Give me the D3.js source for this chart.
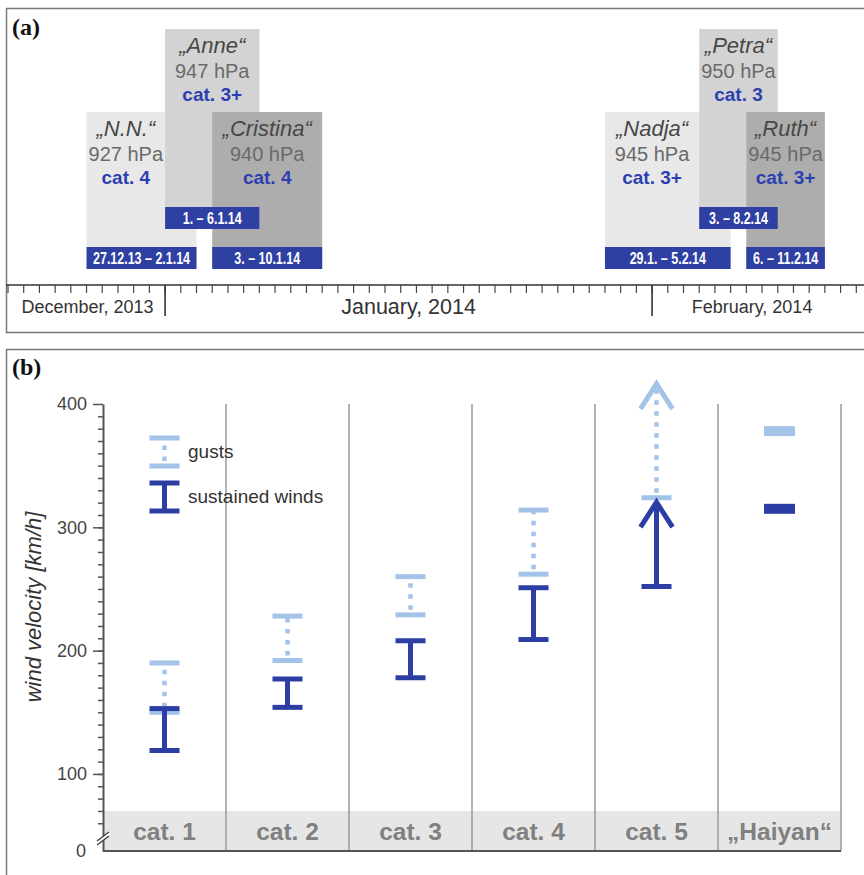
<!DOCTYPE html>
<html>
<head>
<meta charset="utf-8">
<script src="https://cdn.jsdelivr.net/npm/d3@7"></script>
<style>
  body { margin: 0; background: #fff; }
  text { font-family: "Liberation Sans", Arial, Helvetica, sans-serif; }
</style>
</head>
<body>
<script>
// ---------- data: panel (a), storm timeline ----------
const stormNames    = ["N.N.", "Anne", "Cristina", "Nadja", "Petra", "Ruth"];
const stormPressure = [927, 947, 940, 945, 950, 945];
const stormCategory = ["cat. 4", "cat. 3+", "cat. 4", "cat. 3+", "cat. 3", "cat. 3+"];
const stormDates    = ["27.12.13 – 2.1.14", "1. – 6.1.14", "3. – 10.1.14",
                       "29.1. – 5.2.14", "3. – 8.2.14", "6. – 11.2.14"];
// extent of each box as drawn in the figure (end is exclusive)
const stormStart    = ["2013-12-27", "2014-01-01", "2014-01-04", "2014-01-29", "2014-02-04", "2014-02-07"];
const stormEnd      = ["2014-01-03", "2014-01-07", "2014-01-11", "2014-02-06", "2014-02-09", "2014-02-12"];
const stormRow      = [1, 0, 1, 1, 0, 1];   // 0 = raised box
const monthStarts   = ["2013-12-01", "2014-01-01", "2014-02-01", "2014-03-01"];
const monthLabels   = ["December, 2013", "January, 2014", "February, 2014"];

// ---------- data: panel (b), wind velocity per category ----------
const categories   = ["cat. 1", "cat. 2", "cat. 3", "cat. 4", "cat. 5", "\u201EHaiyan\u201C"];
const sustainedMin = [119, 154, 178, 209, 252, 315];
const sustainedMax = [153, 177, 208, 251, 322, 315];
const gustMin      = [150, 192, 229, 262, 324, 378];
const gustMax      = [190, 228, 260, 314, 418, 378];
const openTop      = [false, false, false, false, true, false];
const yMajorTicks  = [100, 200, 300, 400];

const darkBlue = "#2c3da3", lightBlue = "#a3c3e8", blueBox = "#2f40a3";
const shades = ["#e8e8e8", "#d3d3d3", "#adadad"];

const svg = d3.select("body").append("svg")
  .attr("width", 864).attr("height", 875);

const parse = d3.utcParse("%Y-%m-%d");

// ================= panel (a) =================
svg.append("rect")
  .attr("x", 6.5).attr("y", 8.5).attr("width", 900).attr("height", 324)
  .attr("fill", "none").attr("stroke", "#7a7a7a").attr("stroke-width", 1.5);

svg.append("text").attr("x", 12).attr("y", 35)
  .style("font-family", "'Liberation Serif', 'Times New Roman', serif")
  .style("font-weight", "bold").style("font-size", "24px").attr("fill", "#111")
  .text("(a)");

var x = d3.scaleUtc()
  .domain([parse("2013-12-22"), parse("2014-02-15")])
  .range([8, 872]);

const rowTop = [29, 112], rowBottom = [229, 269], labelH = 22;

const storms = stormNames.map(function (n, i) {
  return { name: n, hpa: stormPressure[i], cat: stormCategory[i], dates: stormDates[i],
           start: parse(stormStart[i]), end: parse(stormEnd[i]), row: stormRow[i], i: i };
});

// centre of the part of a low box that is not hidden by later boxes
function textCenter(d) {
  var x0 = x(d.start), x1 = x(d.end);
  if (d.row === 1) {
    storms.forEach(function (e) {
      if (e.i > d.i && x(e.start) > x0 && x(e.start) < x1) x1 = x(e.start);
    });
  }
  return (x0 + x1) / 2;
}

var boxes = svg.append("g");
boxes.selectAll("rect")
  .data(storms)
  .join("rect")
  .attr("x", function (d) { return x(d.start); })
  .attr("width", function (d) { return x(d.end) - x(d.start); })
  .attr("y", function (d) { return rowTop[d.row]; })
  .attr("height", function (d) { return rowBottom[d.row] - rowTop[d.row]; })
  .attr("fill", function (d) { return shades[d.i % 3]; });

var info = svg.append("g").attr("text-anchor", "middle");
info.selectAll("text.name")
  .data(storms).join("text").attr("class", "name")
  .attr("x", textCenter)
  .attr("y", function (d) { return rowTop[d.row] + 24; })
  .style("font-size", "22px").style("font-style", "italic").attr("fill", "#474747")
  .text(function (d) { return "\u201E" + d.name + "\u201C"; });
info.selectAll("text.hpa")
  .data(storms).join("text").attr("class", "hpa")
  .attr("x", textCenter)
  .attr("y", function (d) { return rowTop[d.row] + 49; })
  .style("font-size", "20px").attr("fill", "#6a6a6a")
  .text(function (d) { return d.hpa + " hPa"; });
info.selectAll("text.cat")
  .data(storms).join("text").attr("class", "cat")
  .attr("x", textCenter)
  .attr("y", function (d) { return rowTop[d.row] + 72; })
  .style("font-size", "19px").style("font-weight", "bold").attr("fill", "#2c3fb0")
  .text(function (d) { return d.cat; });

// date labels (narrow look: squeeze text horizontally)
const squeeze = 0.78;
var labels = svg.append("g");
labels.selectAll("rect")
  .data(storms).join("rect")
  .attr("x", function (d) { return x(d.start); })
  .attr("width", function (d) { return x(d.end) - x(d.start); })
  .attr("y", function (d) { return rowBottom[d.row] - labelH; })
  .attr("height", labelH)
  .attr("fill", blueBox);
labels.selectAll("text")
  .data(storms).join("text")
  .attr("transform", function (d) {
    return "translate(" + (x(d.start) + x(d.end)) / 2 + "," + (rowBottom[d.row] - 5) + ") scale(" + squeeze + ",1)";
  })
  .attr("text-anchor", "middle")
  .style("font-size", "16px").style("font-weight", "bold").attr("fill", "#fff")
  .text(function (d) { return d.dates; })
  .each(function (d) {
    var room = (x(d.end) - x(d.start) - 5) / squeeze;
    if (this.getComputedTextLength() > room) {
      d3.select(this).attr("textLength", room).attr("lengthAdjust", "spacingAndGlyphs");
    }
  });

// time axis
const axisY = 285;
svg.append("line")
  .attr("x1", 6).attr("x2", 864).attr("y1", axisY).attr("y2", axisY)
  .attr("stroke", "#333").attr("stroke-width", 1.6);

svg.append("g").selectAll("line")
  .data(d3.utcDay.range(x.domain()[0], x.domain()[1]))
  .join("line")
  .attr("x1", function (d) { return x(d); }).attr("x2", function (d) { return x(d); })
  .attr("y1", axisY).attr("y2", axisY + 8)
  .attr("stroke", "#444").attr("stroke-width", 1.2);

var months = monthStarts.map(parse);
svg.append("g").selectAll("line")
  .data(months.filter(function (m) { return m > x.domain()[0] && m < x.domain()[1]; }))
  .join("line")
  .attr("x1", function (d) { return x(d); }).attr("x2", function (d) { return x(d); })
  .attr("y1", axisY).attr("y2", axisY + 31)
  .attr("stroke", "#333").attr("stroke-width", 1.6);

svg.append("g").selectAll("text")
  .data(monthLabels)
  .join("text")
  .attr("x", function (d, i) {
    var a = Math.max(x(months[i]), 10), b = Math.min(x(months[i + 1]), 852);
    return (a + b) / 2;
  })
  .attr("y", function (d, i) { return i === 1 ? 314 : 313; })
  .attr("text-anchor", "middle")
  .style("font-size", function (d, i) { return i === 1 ? "21.5px" : "18px"; })
  .attr("fill", "#333")
  .text(function (d) { return d; });

// ================= panel (b) =================
svg.append("rect")
  .attr("x", 6.5).attr("y", 349.5).attr("width", 900).attr("height", 600)
  .attr("fill", "none").attr("stroke", "#7a7a7a").attr("stroke-width", 1.5);

svg.append("text").attr("x", 12).attr("y", 375)
  .style("font-family", "'Liberation Serif', 'Times New Roman', serif")
  .style("font-weight", "bold").style("font-size", "24px").attr("fill", "#111")
  .text("(b)");

// broken axis: 0..50 squeezed into a short stub below the break
var y = d3.scaleLinear().domain([0, 50, 400]).range([851, 835.6, 404]);
var xb = d3.scaleBand().domain(categories).range([103, 841]).padding(0);
var bw = xb.bandwidth();

// grey label strip
svg.append("rect")
  .attr("x", xb.range()[0]).attr("width", xb.range()[1] - xb.range()[0])
  .attr("y", y(70)).attr("height", y(0) - y(70))
  .attr("fill", "#e6e6e6");

// column separators
svg.append("g").selectAll("line")
  .data(categories)
  .join("line")
  .attr("x1", function (d) { return xb(d) + bw; }).attr("x2", function (d) { return xb(d) + bw; })
  .attr("y1", y(400)).attr("y2", y(0))
  .attr("stroke", "#9a9a9a").attr("stroke-width", 1.5);

svg.append("g").selectAll("text")
  .data(categories)
  .join("text")
  .attr("x", function (d) { return xb(d) + bw / 2; })
  .attr("y", 840)
  .attr("text-anchor", "middle")
  .style("font-size", "24.5px").style("font-weight", "bold").attr("fill", "#808080")
  .text(function (d) { return d; });

// baseline
svg.append("line")
  .attr("x1", xb.range()[0]).attr("x2", xb.range()[1])
  .attr("y1", y(0)).attr("y2", y(0))
  .attr("stroke", "#555").attr("stroke-width", 2);

// y axis
var yAxisG = svg.append("g").attr("transform", "translate(103,0)");
var minorG = yAxisG.append("g")
  .call(d3.axisLeft(y).tickValues(d3.range(60, 400, 10)).tickSize(5).tickSizeOuter(0).tickFormat(""));
var majorG = yAxisG.append("g")
  .call(d3.axisLeft(y).tickValues(yMajorTicks).tickSize(10).tickPadding(6).tickFormat(d3.format("d")));
var zeroG = yAxisG.append("g")
  .call(d3.axisLeft(y).tickValues([0]).tickSize(0).tickPadding(17));
majorG.select(".domain").remove();
zeroG.select(".domain").remove();
yAxisG.selectAll(".domain").attr("stroke", "#555").attr("stroke-width", 2);
yAxisG.selectAll(".tick line").attr("stroke", "#555").attr("stroke-width", 1.5);
yAxisG.selectAll(".tick text")
  .style("font-family", "'Liberation Sans', Arial, sans-serif")
  .style("font-size", "18px").attr("fill", "#444");

// axis break mark
var yb = y(47);
svg.append("polygon")
  .attr("points", [[96, yb + 5], [110, yb - 5], [110, yb - 1], [96, yb + 9]].join(" "))
  .attr("fill", "#fff");
svg.append("g").selectAll("line")
  .data([0, 4])
  .join("line")
  .attr("x1", 97).attr("x2", 109)
  .attr("y1", function (d) { return yb + 4.5 + d; }).attr("y2", function (d) { return yb - 4.5 + d; })
  .attr("stroke", "#444").attr("stroke-width", 1.5);

svg.append("text")
  .attr("transform", "translate(41,607) rotate(-90)")
  .attr("text-anchor", "middle")
  .style("font-size", "22px").style("font-style", "italic").attr("fill", "#333")
  .text("wind velocity [km/h]");

// error bars
const capW = 15;
function drawRange(g, cx, lo, hi, open, color, dotted) {
  if (lo === hi) {
    g.append("rect")
      .attr("x", cx - 15.5).attr("width", 31)
      .attr("y", y(lo) - 5).attr("height", 10)
      .attr("fill", color);
    return;
  }
  g.append("line")
    .attr("x1", cx).attr("x2", cx)
    .attr("y1", y(lo) - 2).attr("y2", y(hi) + 2)
    .attr("stroke", color).attr("stroke-width", dotted ? 4.5 : 5)
    .attr("stroke-dasharray", dotted ? "4.5,6.5" : null)
    .attr("stroke-dashoffset", dotted ? -3 : 0);
  g.append("line")
    .attr("x1", cx - capW).attr("x2", cx + capW)
    .attr("y1", y(lo)).attr("y2", y(lo))
    .attr("stroke", color).attr("stroke-width", 5);
  if (open) {
    g.append("path")
      .attr("d", d3.line()([[cx - 16, y(hi) + 27], [cx, y(hi) + 2], [cx + 16, y(hi) + 27]]))
      .attr("fill", "none").attr("stroke", color).attr("stroke-width", 5);
  } else {
    g.append("line")
      .attr("x1", cx - capW).attr("x2", cx + capW)
      .attr("y1", y(hi)).attr("y2", y(hi))
      .attr("stroke", color).attr("stroke-width", 5);
  }
}

var bars = svg.append("g");
categories.forEach(function (c, i) {
  var cx = xb(c) + bw / 2;
  drawRange(bars, cx, gustMin[i], gustMax[i], openTop[i], lightBlue, true);
});
categories.forEach(function (c, i) {
  var cx = xb(c) + bw / 2;
  drawRange(bars, cx, sustainedMin[i], sustainedMax[i], openTop[i], darkBlue, false);
});

// legend
var lx = xb(categories[0]) + bw / 2;
var legend = svg.append("g");
function legendSymbol(top, bottom, color, dotted) {
  legend.append("line")
    .attr("x1", lx).attr("x2", lx).attr("y1", bottom - 2).attr("y2", top + 2)
    .attr("stroke", color).attr("stroke-width", dotted ? 4.5 : 5)
    .attr("stroke-dasharray", dotted ? "4.5,6.5" : null)
    .attr("stroke-dashoffset", dotted ? -3 : 0);
  [top, bottom].forEach(function (yy) {
    legend.append("line")
      .attr("x1", lx - capW).attr("x2", lx + capW).attr("y1", yy).attr("y2", yy)
      .attr("stroke", color).attr("stroke-width", 5);
  });
}
legendSymbol(438, 466, lightBlue, true);
legendSymbol(483, 511, darkBlue, false);
legend.append("text").attr("x", 188).attr("y", 458)
  .style("font-size", "19px").attr("fill", "#333").text("gusts");
legend.append("text").attr("x", 188).attr("y", 503)
  .style("font-size", "19px").attr("fill", "#333").text("sustained winds");
</script>
</body>
</html>
